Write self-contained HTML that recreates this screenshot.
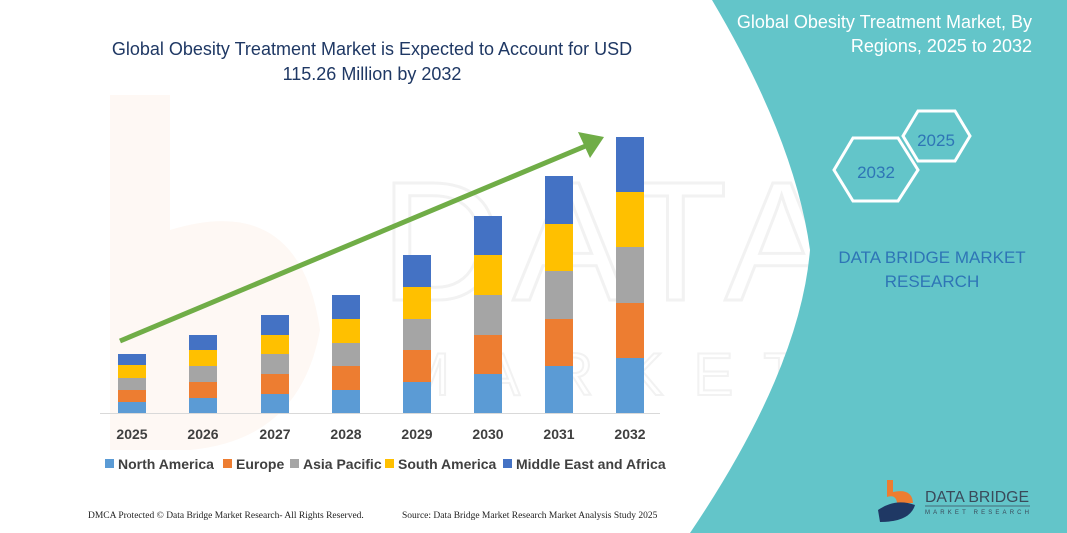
<!DOCTYPE html>
<html><head><meta charset="utf-8"><style>
body{margin:0;width:1067px;height:533px;overflow:hidden;background:#fff;font-family:"Liberation Sans",sans-serif;}
</style></head><body>
<svg width="1067" height="533" viewBox="0 0 1067 533" xmlns="http://www.w3.org/2000/svg" style="position:absolute;left:0;top:0">
<path d="M110,95 L170,95 L170,230 Q300,190 320,330 Q300,440 190,450 L110,450 Z" fill="#fef8f4"/>
<text x="380" y="300" font-family="Liberation Sans" font-size="170" fill="none" stroke="#f2f2f2" stroke-width="3" letter-spacing="10">DATA BRIDGE</text>
<text x="400" y="395" font-family="Liberation Sans" font-size="60" fill="none" stroke="#f2f2f2" stroke-width="2" letter-spacing="30">MARKET RESEARCH</text>
<path d="M712,0 Q795,140 810,250 Q800,370 690,533 L1067,533 L1067,0 Z" fill="#63c5c9"/>
<text x="372" y="55" text-anchor="middle" font-size="18" fill="#1f3864">Global Obesity Treatment Market is Expected to Account for USD</text>
<text x="372" y="80" text-anchor="middle" font-size="18" fill="#1f3864">115.26 Million by 2032</text>
<line x1="100" y1="413.5" x2="660" y2="413.5" stroke="#d9d9d9" stroke-width="1"/>
<g id="bars"></g>
<line x1="120" y1="341" x2="588" y2="145" stroke="#70ad47" stroke-width="5"/>
<polygon points="604,137 578,132 590,158" fill="#70ad47"/>
<g font-size="14" font-weight="bold" fill="#404040" text-anchor="middle">
<text x="132" y="439">2025</text><text x="203" y="439">2026</text><text x="275" y="439">2027</text><text x="346" y="439">2028</text><text x="417" y="439">2029</text><text x="488" y="439">2030</text><text x="559" y="439">2031</text><text x="630" y="439">2032</text>
</g>
<g font-size="14" font-weight="bold" fill="#404040">
<rect x="105" y="459" width="9" height="9" fill="#5b9bd5"/><text x="118" y="469">North America</text>
<rect x="223" y="459" width="9" height="9" fill="#ed7d31"/><text x="236" y="469">Europe</text>
<rect x="290" y="459" width="9" height="9" fill="#a5a5a5"/><text x="303" y="469">Asia Pacific</text>
<rect x="385" y="459" width="9" height="9" fill="#ffc000"/><text x="398" y="469">South America</text>
<rect x="503" y="459" width="9" height="9" fill="#4472c4"/><text x="516" y="469">Middle East and Africa</text>
</g>
<text x="88" y="518" font-family="Liberation Serif" font-size="9.5" fill="#222">DMCA Protected © Data Bridge Market Research- All Rights Reserved.</text>
<text x="402" y="518" font-family="Liberation Serif" font-size="9.5" fill="#222">Source: Data Bridge Market Research  Market Analysis Study 2025</text>
<text x="1032" y="28" text-anchor="end" font-size="18" fill="#fff">Global Obesity Treatment Market, By</text>
<text x="1032" y="52" text-anchor="end" font-size="18" fill="#fff">Regions, 2025 to 2032</text>
<polygon points="918,111 955,111 970,136 955,161 918,161 903,136" fill="none" stroke="#fff" stroke-width="3"/>
<text x="936" y="146" text-anchor="middle" font-size="17" fill="#2e75b6">2025</text>
<polygon points="853,138 898,138 918,170 898,201 853,201 834,170" fill="none" stroke="#fff" stroke-width="3"/>
<text x="876" y="178" text-anchor="middle" font-size="17" fill="#2e75b6">2032</text>
<text x="932" y="263" text-anchor="middle" font-size="17" fill="#2e75b6">DATA BRIDGE MARKET</text>
<text x="932" y="287" text-anchor="middle" font-size="17" fill="#2e75b6">RESEARCH</text>
<path d="M887,480 L893,480 L893,492 Q912,488 913,503 L897,503 Q896,494 887,497 Z" fill="#ed7d31"/>
<path d="M878,510 Q895,498 915,505 Q910,522 880,522 Z" fill="#1f3864"/>
<text x="925" y="502" font-size="16" fill="#3a4a5a" textLength="104" lengthAdjust="spacingAndGlyphs">DATA BRIDGE</text>
<line x1="925" y1="506" x2="1030" y2="506" stroke="#3a4a5a" stroke-width="0.8"/>
<text x="925" y="514" font-size="6" fill="#3a4a5a" textLength="104">MARKET RESEARCH</text>
</svg>
<script>
var xs=[118,189,261,332,403,474,545,616];
var b=[[413,402,390,378,365,354],[413,398,382,366,350,335],[413,394,374,354,335,315],[413,390,366,343,319,295],[413,382,350,319,287,255],[413,374,335,295,255,216],[413,366,319,271,224,176],[413,358,303,247,192,137]];
var c=["#5b9bd5","#ed7d31","#a5a5a5","#ffc000","#4472c4"];
var g=document.getElementById("bars"),h="";
for(var i=0;i<8;i++)for(var k=0;k<5;k++){h+='<rect x="'+xs[i]+'" y="'+b[i][k+1]+'" width="28" height="'+(b[i][k]-b[i][k+1])+'" fill="'+c[k]+'"/>';}
g.innerHTML=h;
</script>
</body></html>
